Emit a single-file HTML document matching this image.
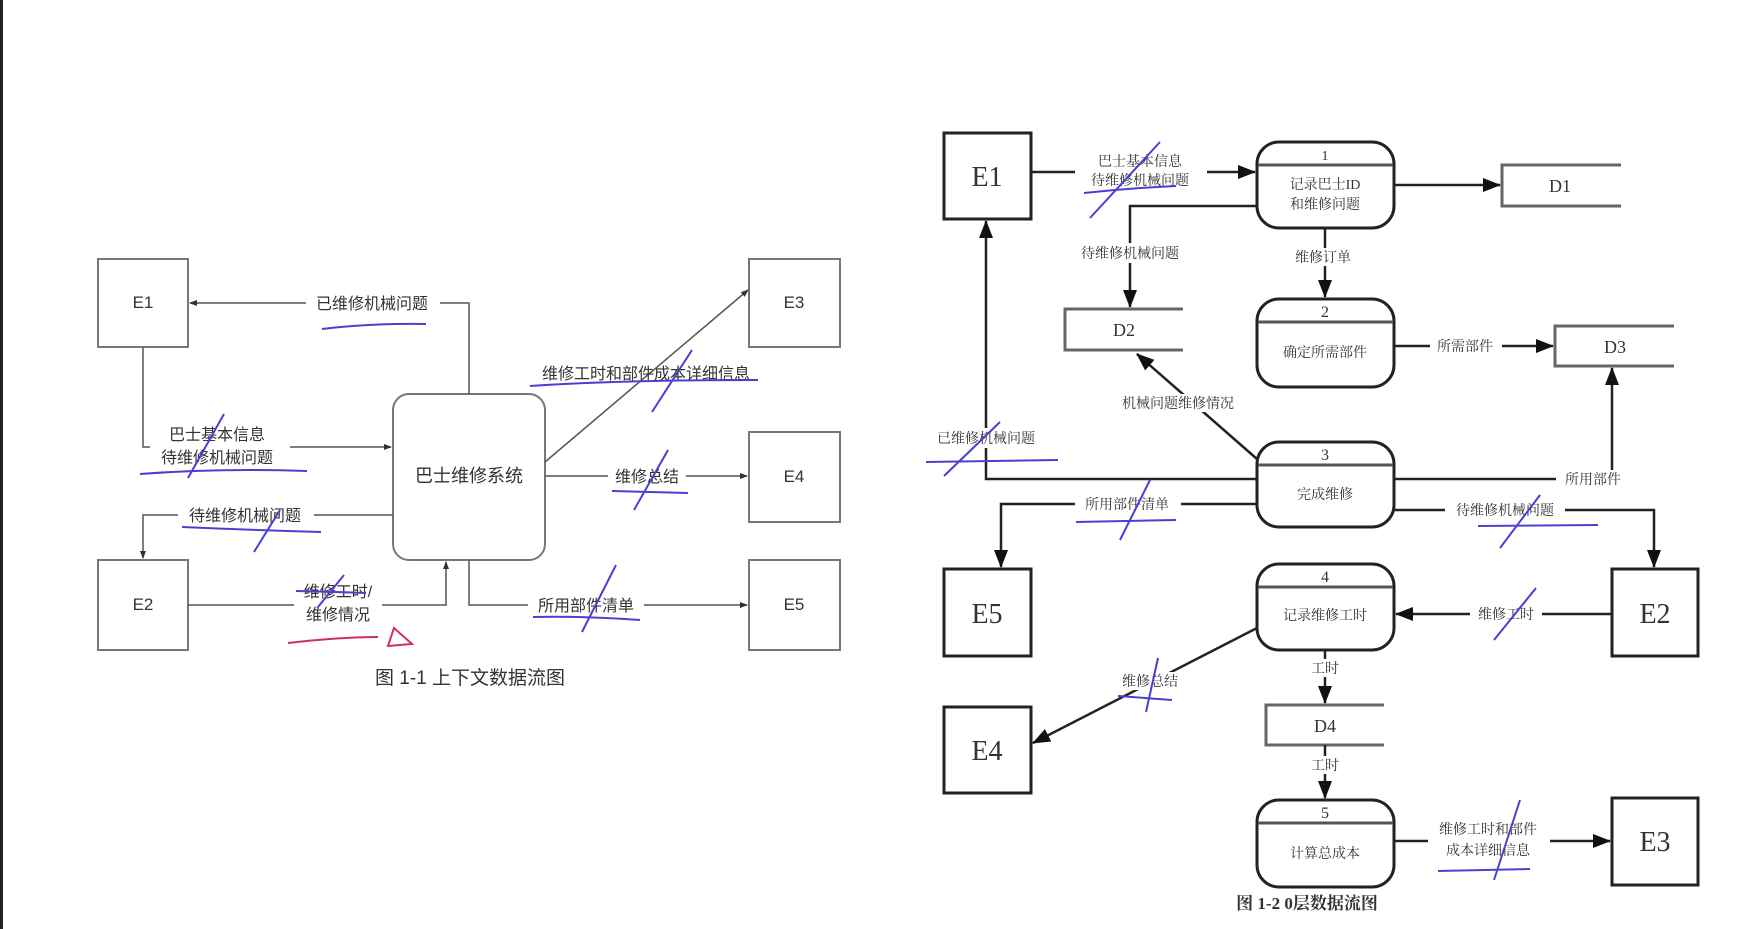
<!DOCTYPE html>
<html><head><meta charset="utf-8"><style>
html,body{margin:0;padding:0;background:#fff;}
svg{display:block;}
text{font-family:"Liberation Sans","Noto Sans CJK SC",sans-serif;fill:#333;}
.s{font-family:"Liberation Serif","Noto Serif CJK SC",serif;}
</style></head><body>
<svg width="1758" height="929" viewBox="0 0 1758 929" xmlns="http://www.w3.org/2000/svg">
<defs>
<marker id="a" markerWidth="8" markerHeight="8" refX="7" refY="4" orient="auto" markerUnits="userSpaceOnUse"><path d="M0,1 L8,4 L0,7 Z" fill="#333"/></marker>
<marker id="b" markerWidth="18" markerHeight="18" refX="17" refY="9" orient="auto" markerUnits="userSpaceOnUse"><path d="M0,2 L18,9 L0,16 Z" fill="#111"/></marker>
</defs>
<rect x="0" y="0" width="3" height="929" fill="#222"/>
<!-- LEFT DIAGRAM -->
<g fill="#fff" stroke="#777" stroke-width="2">
<rect x="98" y="259" width="90" height="88"/>
<rect x="749" y="259" width="91" height="88"/>
<rect x="749" y="432" width="91" height="90"/>
<rect x="98" y="560" width="90" height="90"/>
<rect x="749" y="560" width="91" height="90"/>
<rect x="393" y="394" width="152" height="166" rx="16"/>
</g>
<g fill="none" stroke="#555" stroke-width="1.5">
<polyline points="469,394 469,303 190,303" marker-end="url(#a)"/>
<polyline points="143,347 143,447 391,447" marker-end="url(#a)"/>
<polyline points="393,515 143,515 143,558" marker-end="url(#a)"/>
<polyline points="188,605 446,605 446,562" marker-end="url(#a)"/>
<polyline points="469,560 469,605 747,605" marker-end="url(#a)"/>
<line x1="545" y1="476" x2="747" y2="476" marker-end="url(#a)"/>
<line x1="545" y1="462" x2="748" y2="290" marker-end="url(#a)"/>
</g>
<g font-size="16" text-anchor="middle">
<rect x="306" y="293" width="134" height="20" fill="#fff"/>
<text x="372" y="309">已维修机械问题</text>
<rect x="150" y="422" width="140" height="44" fill="#fff"/>
<text x="217" y="440">巴士基本信息</text>
<text x="217" y="463">待维修机械问题</text>
<rect x="178" y="505" width="136" height="20" fill="#fff"/>
<text x="245" y="521">待维修机械问题</text>
<rect x="294" y="578" width="88" height="44" fill="#fff"/>
<text x="338" y="597">维修工时/</text>
<text x="338" y="620">维修情况</text>
<rect x="528" y="595" width="116" height="20" fill="#fff"/>
<text x="586" y="611">所用部件清单</text>
<rect x="608" y="466" width="78" height="20" fill="#fff"/>
<text x="647" y="482">维修总结</text>
<text x="646" y="379">维修工时和部件成本详细信息</text>
<text x="143" y="308" font-size="17">E1</text>
<text x="794" y="308" font-size="17">E3</text>
<text x="794" y="482" font-size="17">E4</text>
<text x="143" y="610" font-size="17">E2</text>
<text x="794" y="610" font-size="17">E5</text>
<text x="469" y="482" font-size="18">巴士维修系统</text>
<text x="470" y="684" font-size="19">图 1-1 上下文数据流图</text>
</g>
<!-- pen marks left -->
<g fill="none" stroke="#4a3fd0" stroke-width="2">
<path d="M322,329 Q370,323 426,324"/>
<path d="M140,474 Q220,468 307,471"/>
<path d="M224,414 L188,478"/>
<path d="M182,527 Q250,530 321,532"/>
<path d="M280,510 L254,552"/>
<path d="M296,591 Q340,592 366,593"/>
<path d="M344,575 L318,607"/>
<path d="M533,617 Q580,616 640,620"/>
<path d="M616,565 L582,632"/>
<path d="M612,491 L688,493"/>
<path d="M668,450 L634,510"/>
<path d="M530,386 Q620,380 758,380"/>
<path d="M692,350 L652,412"/>
</g>
<g fill="none" stroke="#d0305a" stroke-width="2">
<path d="M288,643 Q340,637 378,637"/>
<path d="M394,628 L388,646 L412,644 Z"/>
</g>
<!-- RIGHT DIAGRAM -->
<g fill="#fff" stroke="#222" stroke-width="3">
<rect x="944" y="133" width="87" height="86"/>
<rect x="944" y="569" width="87" height="87"/>
<rect x="1612" y="569" width="86" height="87"/>
<rect x="944" y="707" width="87" height="86"/>
<rect x="1612" y="798" width="86" height="87"/>
</g>
<g fill="#fff" stroke="#222" stroke-width="3">
<rect x="1257" y="142" width="137" height="86" rx="22"/>
<rect x="1257" y="299" width="137" height="88" rx="22"/>
<rect x="1257" y="442" width="137" height="85" rx="22"/>
<rect x="1257" y="564" width="137" height="86" rx="22"/>
<rect x="1257" y="800" width="137" height="87" rx="22"/>
</g>
<g stroke="#555" stroke-width="3">
<line x1="1258" y1="165" x2="1393" y2="165"/>
<line x1="1258" y1="322" x2="1393" y2="322"/>
<line x1="1258" y1="465" x2="1393" y2="465"/>
<line x1="1258" y1="587" x2="1393" y2="587"/>
<line x1="1258" y1="823" x2="1393" y2="823"/>
</g>
<g fill="none" stroke="#666" stroke-width="3">
<path d="M1621,165 H1502 V206 H1621"/>
<path d="M1183,309 H1065 V350 H1183"/>
<path d="M1674,326 H1555 V366 H1674"/>
<path d="M1384,705 H1266 V745 H1384"/>
</g>
<g fill="none" stroke="#222" stroke-width="2.5">
<line x1="1031" y1="172" x2="1255" y2="172" marker-end="url(#b)"/>
<line x1="1394" y1="185" x2="1500" y2="185" marker-end="url(#b)"/>
<polyline points="1257,206 1130,206 1130,307" marker-end="url(#b)"/>
<line x1="1325" y1="228" x2="1325" y2="297" marker-end="url(#b)"/>
<line x1="1394" y1="346" x2="1553" y2="346" marker-end="url(#b)"/>
<line x1="1257" y1="459" x2="1137" y2="354" marker-end="url(#b)"/>
<polyline points="1257,479 986,479 986,221" marker-end="url(#b)"/>
<polyline points="1257,504 1001,504 1001,567" marker-end="url(#b)"/>
<polyline points="1394,479 1612,479 1612,368" marker-end="url(#b)"/>
<polyline points="1394,510 1654,510 1654,567" marker-end="url(#b)"/>
<line x1="1612" y1="614" x2="1396" y2="614" marker-end="url(#b)"/>
<line x1="1257" y1="628" x2="1033" y2="743" marker-end="url(#b)"/>
<line x1="1325" y1="650" x2="1325" y2="703" marker-end="url(#b)"/>
<line x1="1325" y1="745" x2="1325" y2="798" marker-end="url(#b)"/>
<line x1="1394" y1="841" x2="1610" y2="841" marker-end="url(#b)"/>
</g>
<g font-size="14" text-anchor="middle" class="s">
<rect x="1075" y="150" width="132" height="38" fill="#fff"/>
<text class="s" x="1140" y="166">巴士基本信息</text>
<text class="s" x="1140" y="185">待维修机械问题</text>
<rect x="1070" y="243" width="120" height="20" fill="#fff"/>
<text class="s" x="1130" y="258">待维修机械问题</text>
<rect x="1290" y="248" width="70" height="18" fill="#fff"/>
<text class="s" x="1323" y="262">维修订单</text>
<rect x="1430" y="337" width="72" height="18" fill="#fff"/>
<text class="s" x="1465" y="351">所需部件</text>
<rect x="1110" y="394" width="136" height="18" fill="#fff"/>
<text class="s" x="1178" y="408">机械问题维修情况</text>
<rect x="925" y="428" width="124" height="20" fill="#fff"/>
<text class="s" x="986" y="443">已维修机械问题</text>
<rect x="1075" y="495" width="106" height="18" fill="#fff"/>
<text class="s" x="1127" y="509">所用部件清单</text>
<rect x="1556" y="470" width="74" height="18" fill="#fff"/>
<text class="s" x="1593" y="484">所用部件</text>
<rect x="1445" y="501" width="120" height="18" fill="#fff"/>
<text class="s" x="1505" y="515">待维修机械问题</text>
<rect x="1470" y="605" width="72" height="18" fill="#fff"/>
<text class="s" x="1506" y="619">维修工时</text>
<rect x="1114" y="672" width="72" height="18" fill="#fff"/>
<text class="s" x="1150" y="686">维修总结</text>
<rect x="1308" y="659" width="34" height="18" fill="#fff"/>
<text class="s" x="1325" y="673">工时</text>
<rect x="1308" y="756" width="34" height="18" fill="#fff"/>
<text class="s" x="1325" y="770">工时</text>
<rect x="1428" y="820" width="122" height="38" fill="#fff"/>
<text class="s" x="1488" y="834">维修工时和部件</text>
<text class="s" x="1488" y="855">成本详细信息</text>
<text class="s" x="1325" y="160">1</text>
<text class="s" x="1325" y="189">记录巴士ID</text>
<text class="s" x="1325" y="209">和维修问题</text>
<text class="s" x="1325" y="317" font-size="16">2</text>
<text class="s" x="1325" y="357">确定所需部件</text>
<text class="s" x="1325" y="460" font-size="16">3</text>
<text class="s" x="1325" y="499">完成维修</text>
<text class="s" x="1325" y="582" font-size="16">4</text>
<text class="s" x="1325" y="620">记录维修工时</text>
<text class="s" x="1325" y="818" font-size="16">5</text>
<text class="s" x="1325" y="858">计算总成本</text>
<text class="s" x="1560" y="192" font-size="18">D1</text>
<text class="s" x="1124" y="336" font-size="18">D2</text>
<text class="s" x="1615" y="353" font-size="18">D3</text>
<text class="s" x="1325" y="732" font-size="18">D4</text>
<text class="s" x="987" y="186" font-size="28">E1</text>
<text class="s" x="987" y="623" font-size="28">E5</text>
<text class="s" x="1655" y="623" font-size="28">E2</text>
<text class="s" x="987" y="760" font-size="28">E4</text>
<text class="s" x="1655" y="851" font-size="28">E3</text>
<text class="s" x="1307" y="909" font-size="17" font-weight="bold">图 1-2 0层数据流图</text>
</g>
<g fill="none" stroke="#4a3fd0" stroke-width="2">
<path d="M1084,193 Q1130,188 1176,186"/>
<path d="M1160,142 L1090,218"/>
<path d="M926,462 L1058,460"/>
<path d="M1000,422 L944,476"/>
<path d="M1076,522 L1176,520"/>
<path d="M1150,480 L1120,540"/>
<path d="M1478,526 L1598,525"/>
<path d="M1540,495 L1500,548"/>
<path d="M1536,588 L1494,640"/>
<path d="M1118,696 L1172,700"/>
<path d="M1158,658 L1146,712"/>
<path d="M1438,871 L1530,869"/>
<path d="M1520,800 L1494,880"/>
</g>
</svg>
</body></html>
